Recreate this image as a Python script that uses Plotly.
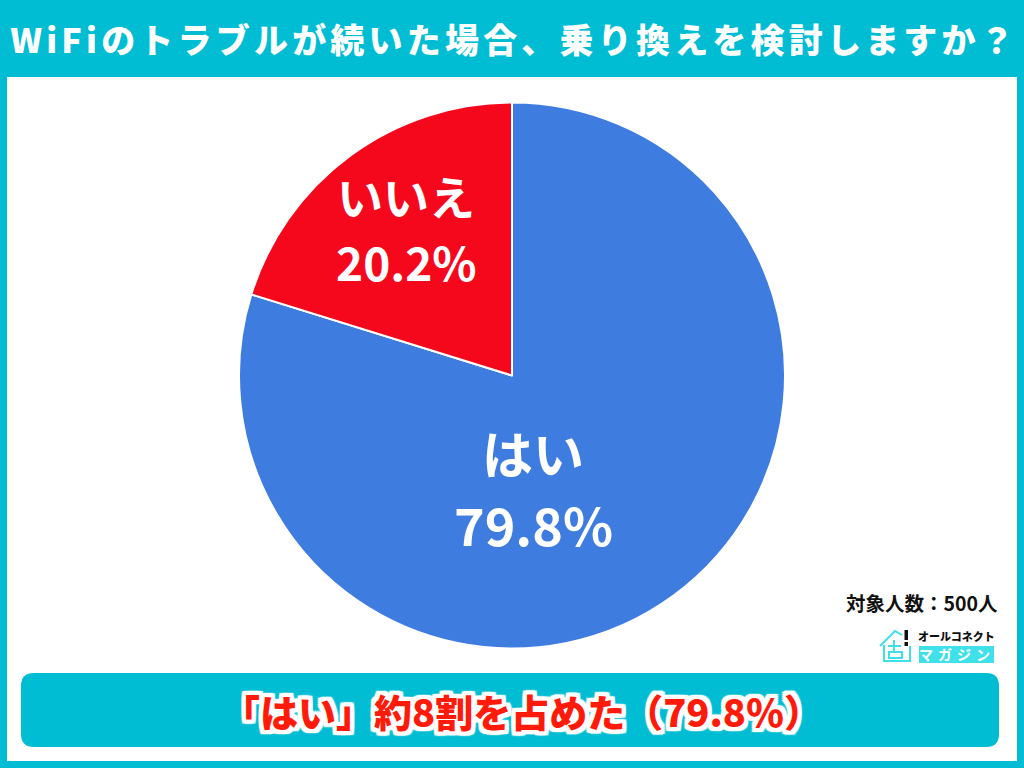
import plotly.graph_objects as go

labels = ["はい", "いいえ"]
values = [79.8, 20.2]
colors = ["#3F7CE0", "#F5081C"]
title = "WiFiのトラブルが続いた場合、乗り換えを検討しますか？"
banner = "「はい」約8割を占めた（79.8％）"
sample = "対象人数：500人"
logo_top = "オールコネクト"
logo_bottom = "マガジン"

W, H = 1024, 768
TEAL = "#00BDD3"
CYAN = "#3FE0EA"
FONT = "Noto Sans CJK JP"


def px(x):
    return x / W


def py(y):
    return 1 - y / H


def rrect(x0, y0, x1, y1, r):
    return (f"M{x0+r},{y0} L{x1-r},{y0} Q{x1},{y0} {x1},{y0+r} L{x1},{y1-r} Q{x1},{y1} {x1-r},{y1} "
            f"L{x0+r},{y1} Q{x0},{y1} {x0},{y1-r} L{x0},{y0+r} Q{x0},{y0} {x0+r},{y0} Z")


fig = go.Figure(go.Pie(
    labels=labels, values=values, sort=False, direction="clockwise", rotation=0,
    marker=dict(colors=colors, line=dict(color="white", width=2)),
    textinfo="none", hoverinfo="label+percent", showlegend=False,
    domain=dict(x=[px(239), px(785)], y=[py(649), py(102)]),
))

shapes = [
    dict(type="rect", x0=7, x1=1017, y0=77, y1=761, fillcolor="white", line_width=0, layer="below"),
    dict(type="path", path=rrect(21, 673, 999, 747, 13), fillcolor=TEAL, line_width=0, layer="below"),
    # logo
    dict(type="rect", x0=919, x1=994, y0=646, y1=663, fillcolor=CYAN, line_width=0),
    dict(type="path", path="M884,645 L884,661 L910,661 L910,646 M880,646 L895,631 L902,635 M888,646 L901,646 M894,640 L894,652 M889,652 L902,652 L902,658 L889,658 Z",
         line=dict(color=CYAN, width=2), fillcolor="rgba(0,0,0,0)"),
    dict(type="rect", x0=904.5, x1=908, y0=630, y1=640, fillcolor="#111", line_width=0),
    dict(type="rect", x0=904.5, x1=908, y0=642, y1=646, fillcolor="#111", line_width=0),
]
for s in shapes:
    s.update(xref="x", yref="y")


def note(text, x, y, size, color, weight=700, shadow=None):
    return dict(text=text, x=x, y=y, xref="x", yref="y", showarrow=False, xanchor="center", yanchor="middle",
                font=dict(family=FONT, size=size, color=color, weight=weight,
                          **({"shadow": shadow} if shadow else {})))


ring = ",".join(f"{dx}px {dy}px 1px white" for dx in (-4, -2, 0, 2, 4) for dy in (-4, -2, 0, 2, 4))
annotations = [
    note(title, 514, 38, 34, "white", 900),
    note(labels[0], 533, 452, 51, "white"),
    note(f"{values[0]}%", 533, 523, 52, "white"),
    note(labels[1], 406, 195, 46, "white"),
    note(f"{values[1]}%", 406, 261, 46, "white"),
    note(sample, 922, 602, 19.5, "#111"),
    note(logo_top, 956, 636, 11, "#111", 900),
    note(logo_bottom, 957, 654, 14, "white"),
    note(banner, 522, 710, 38, "#FF1A0A", 900, shadow=ring),
]

fig.update_layout(
    width=W, height=H, margin=dict(l=0, r=0, t=0, b=0), paper_bgcolor=TEAL, plot_bgcolor="rgba(0,0,0,0)",
    xaxis=dict(range=[0, W], visible=False, fixedrange=True),
    yaxis=dict(range=[H, 0], visible=False, fixedrange=True),
    shapes=shapes, annotations=annotations, showlegend=False,
)

post = """
document.body.style.margin = '0';
const t = document.querySelectorAll('.annotation-text');
if (t.length) { t[0].style.letterSpacing = '4.2px'; t[7].style.letterSpacing = '5px'; }
"""
fig.write_html("out.html", post_script=post, config={"displayModeBar": False})
